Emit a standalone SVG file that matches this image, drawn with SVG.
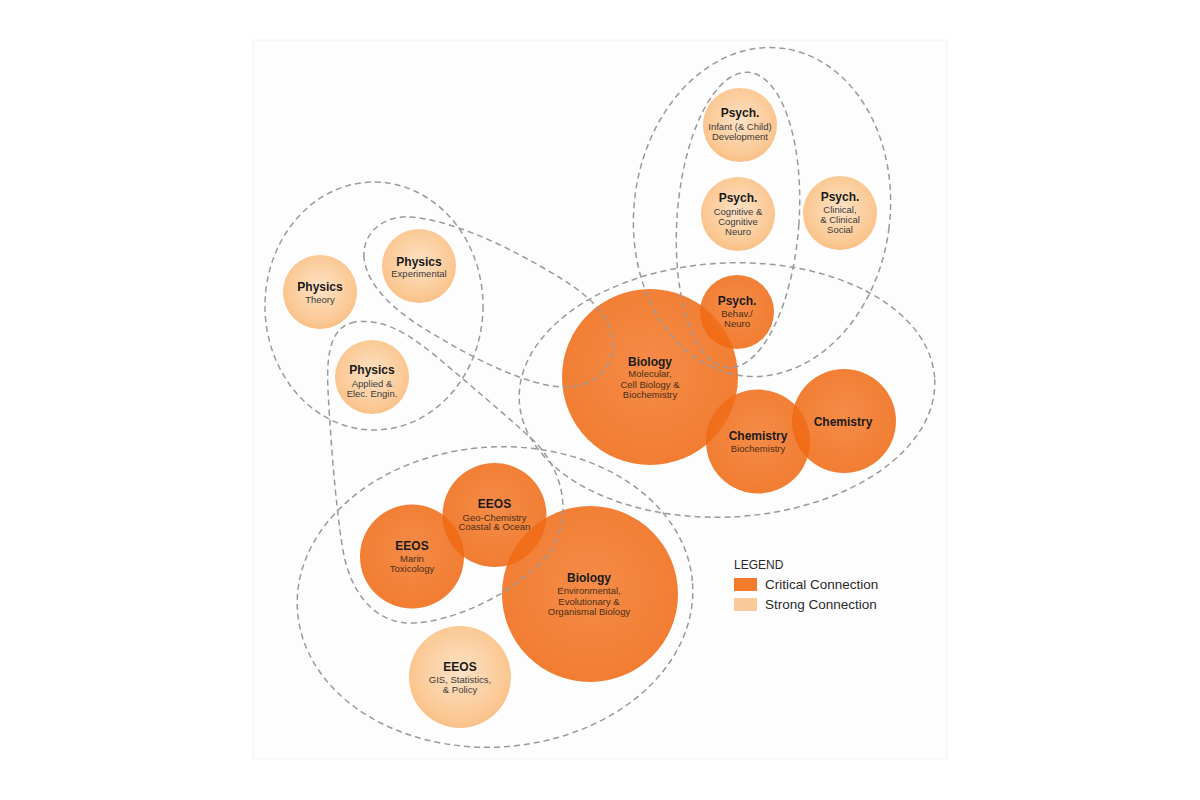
<svg xmlns="http://www.w3.org/2000/svg" width="1200" height="800" viewBox="0 0 1200 800">
  <defs>
    <radialGradient id="gCrit" cx="50%" cy="45%" r="55%">
      <stop offset="0%" stop-color="#f3792a"/>
      <stop offset="85%" stop-color="#f06a14"/>
      <stop offset="100%" stop-color="#ef6810"/>
    </radialGradient>
    <radialGradient id="gStrong" cx="50%" cy="45%" r="55%">
      <stop offset="0%" stop-color="#fde2c6"/>
      <stop offset="80%" stop-color="#fbc995"/>
      <stop offset="100%" stop-color="#f9c088"/>
    </radialGradient>
    <style>
      .crit { fill: url(#gCrit); fill-opacity: 0.86; }
      .strong { fill: url(#gStrong); }
      .t { font-family: "Liberation Sans", Arial, sans-serif; font-weight: bold; font-size: 12px; fill: #1a1a1a; text-anchor: middle; }
      .s { font-family: "Liberation Sans", Arial, sans-serif; font-size: 9.5px; fill: #3a3a3a; text-anchor: middle; }
      .sc { font-family: "Liberation Sans", Arial, sans-serif; font-size: 9.5px; fill: #4a2e18; text-anchor: middle; }
      .dash { fill: none; stroke: #9a9a9a; stroke-width: 1.5; stroke-dasharray: 6 4; }
      .lg { font-family: "Liberation Sans", Arial, sans-serif; fill: #2a2a2a; }
    </style>
  </defs>

  <rect x="0" y="0" width="1200" height="800" fill="#ffffff"/>
  <rect x="253" y="40" width="694" height="719" fill="#fdfdfd" stroke="#f2f2f2" stroke-width="1"/>

  <!-- Nodes -->
  <g id="psych-infant">
    <circle class="strong" cx="740" cy="125" r="37"/>
    <text class="t" x="740" y="117">Psych.</text>
    <text class="s" x="740" y="129.5">Infant (&amp; Child)</text>
    <text class="s" x="740" y="139.5">Development</text>
  </g>
  <g id="psych-cognitive">
    <circle class="strong" cx="738" cy="214" r="37"/>
    <text class="t" x="738" y="202">Psych.</text>
    <text class="s" x="738" y="214.5">Cognitive &amp;</text>
    <text class="s" x="738" y="224.5">Cognitive</text>
    <text class="s" x="738" y="234.5">Neuro</text>
  </g>
  <g id="psych-clinical">
    <circle class="strong" cx="840" cy="213" r="37"/>
    <text class="t" x="840" y="201">Psych.</text>
    <text class="s" x="840" y="212.5">Clinical,</text>
    <text class="s" x="840" y="222.5">&amp; Clinical</text>
    <text class="s" x="840" y="232.5">Social</text>
  </g>
  <g id="physics-theory">
    <circle class="strong" cx="320" cy="292" r="37"/>
    <text class="t" x="320" y="290.5">Physics</text>
    <text class="s" x="320" y="302.5">Theory</text>
  </g>
  <g id="physics-experimental">
    <circle class="strong" cx="419" cy="266" r="37"/>
    <text class="t" x="419" y="265.5">Physics</text>
    <text class="s" x="419" y="276.5">Experimental</text>
  </g>
  <g id="physics-applied">
    <circle class="strong" cx="372" cy="377" r="37"/>
    <text class="t" x="372" y="373.5">Physics</text>
    <text class="s" x="372" y="386.5">Applied &amp;</text>
    <text class="s" x="372" y="396.5">Elec. Engin.</text>
  </g>
  <g id="eeos-gis">
    <circle class="strong" cx="460" cy="677" r="51"/>
    <text class="t" x="460" y="670.5">EEOS</text>
    <text class="s" x="460" y="682.5">GIS, Statistics,</text>
    <text class="s" x="460" y="692.5">&amp; Policy</text>
  </g>

  <g id="biology-molecular">
    <circle class="crit" cx="650" cy="377" r="88"/>
    <text class="t" x="650" y="365.5">Biology</text>
    <text class="sc" x="650" y="376.5">Molecular,</text>
    <text class="sc" x="650" y="387.5">Cell Biology &amp;</text>
    <text class="sc" x="650" y="397.5">Biochemistry</text>
  </g>
  <g id="psych-behav">
    <circle class="crit" cx="737" cy="312" r="37"/>
    <text class="t" x="737" y="305">Psych.</text>
    <text class="sc" x="737" y="316.5">Behav./</text>
    <text class="sc" x="737" y="326.5">Neuro</text>
  </g>
  <g id="chemistry-biochemistry">
    <circle class="crit" cx="758" cy="441.5" r="52"/>
    <text class="t" x="758" y="439.5">Chemistry</text>
    <text class="sc" x="758" y="451.5">Biochemistry</text>
  </g>
  <g id="chemistry">
    <circle class="crit" cx="844" cy="421" r="52"/>
    <text class="t" x="843" y="425.5">Chemistry</text>
  </g>
  <g id="eeos-marin">
    <circle class="crit" cx="412" cy="556.5" r="52"/>
    <text class="t" x="412" y="549.5">EEOS</text>
    <text class="sc" x="412" y="561.5">Marin</text>
    <text class="sc" x="412" y="571.5">Toxicology</text>
  </g>
  <g id="eeos-geochemistry">
    <circle class="crit" cx="494.5" cy="515" r="52"/>
    <text class="t" x="494.5" y="507.5">EEOS</text>
    <text class="sc" x="494.5" y="520.5">Geo-Chemistry</text>
    <text class="sc" x="494.5" y="529.5">Coastal &amp; Ocean</text>
  </g>
  <g id="biology-environmental">
    <circle class="crit" cx="590" cy="594" r="88"/>
    <text class="t" x="589" y="581.5">Biology</text>
    <text class="sc" x="589" y="593.5">Environmental,</text>
    <text class="sc" x="589" y="604.5">Evolutionary &amp;</text>
    <text class="sc" x="589" y="614.5">Organismal Biology</text>
  </g>

  <!-- Connectors: dashed groupings -->
  <g id="groupings">
    <ellipse class="dash" cx="762" cy="212" rx="128" ry="165" transform="rotate(7 762 212)"/>
    <ellipse class="dash" cx="738" cy="220" rx="61" ry="148" transform="rotate(4 738 220)"/>
    <ellipse class="dash" cx="374" cy="306" rx="109" ry="124"/>
    <path class="dash" d="M 364,258 C 362,232 385,215 410,217 C 450,220 500,243 540,266 C 575,286 605,305 612,335 C 618,365 595,388 563,387 C 530,386 480,362 440,338 C 405,318 368,292 364,258 Z"/>
    <path class="dash" d="M 355,322 C 332,326 326,350 328,390 C 331,450 338,530 345,560 C 355,600 380,625 415,623 C 460,620 520,590 550,552 C 572,520 566,472 533,440 C 500,410 470,385 437,357 C 410,335 385,318 355,322 Z"/>
    <ellipse class="dash" cx="727" cy="390" rx="208" ry="127" transform="rotate(-3 727 390)"/>
    <ellipse class="dash" cx="495" cy="597" rx="198" ry="150" transform="rotate(-4 495 597)"/>
  </g>

  <!-- Legend -->
  <g id="legend">
    <text class="lg" x="734" y="568.5" font-size="12">LEGEND</text>
    <rect x="734" y="578" width="23" height="13" fill="#f47b2c"/>
    <text class="lg" x="765" y="588.5" font-size="13.5">Critical Connection</text>
    <rect x="734" y="598" width="23" height="13" fill="#fbca9a"/>
    <text class="lg" x="765" y="609" font-size="13.5">Strong Connection</text>
  </g>
</svg>
